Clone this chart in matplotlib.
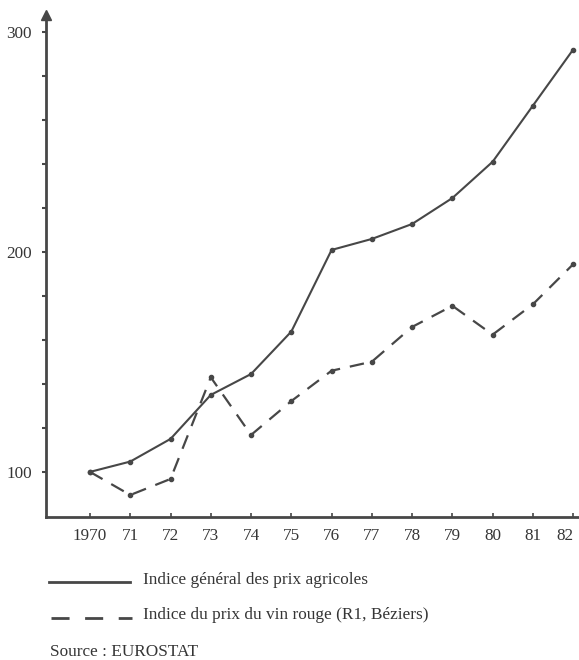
import matplotlib
matplotlib.use("Agg")
import matplotlib.pyplot as plt
from matplotlib.lines import Line2D

# Données (indices, base 1970 = 100)
years = [1970, 1971, 1972, 1973, 1974, 1975, 1976, 1977, 1978, 1979, 1980, 1981, 1982]
year_labels = ["1970", "71", "72", "73", "74", "75", "76", "77", "78", "79", "80", "81", "82"]
prix_agricoles = [100, 104.7, 115, 135, 144.5, 163.8, 200.9, 205.9, 212.7, 224.5, 241, 266.5, 292]
prix_vin_rouge = [100, 89.5, 96.8, 143, 116.8, 132.2, 146, 150.1, 165.9, 175.5, 162.4, 176.2, 194.4]

label_agri = "Indice général des prix agricoles"
label_vin = "Indice du prix du vin rouge (R1, Béziers)"
source = "Source : EUROSTAT"

INK = "#474747"
TXT = "#353535"

plt.rcParams["font.family"] = ["Liberation Serif", "DejaVu Serif"]
plt.rcParams["font.size"] = 12

W, H = 579, 660
fig = plt.figure(figsize=(W / 100, H / 100), dpi=100)
ax = fig.add_axes([46 / W, 143 / H, (578 - 46) / W, (517 - 15) / H])

ax.plot(years, prix_agricoles, color=INK, lw=1.5, marker="o", ms=3)
ax.plot(years, prix_vin_rouge, color=INK, lw=1.6, marker="o", ms=3,
        linestyle=(0, (6.5, 4.5)))

ax.set_xlim(1968.907, 1982.12)
ax.set_ylim(79.5, 307.7)

for s in ["top", "right"]:
    ax.spines[s].set_visible(False)
for s in ["left", "bottom"]:
    ax.spines[s].set_color(INK)
    ax.spines[s].set_linewidth(2)

# flèche en haut de l'axe vertical
ax.plot(0, 1, marker="^", ms=7, color=INK, transform=ax.transAxes, clip_on=False)

ax.set_xticks(years)
ax.set_xticklabels(year_labels)
ax.set_yticks([100, 200, 300])
ax.set_yticks(list(range(120, 300, 20)), minor=True)
ax.tick_params(axis="x", direction="in", length=3, width=1.2, colors=INK,
               labelcolor=TXT, pad=8, labelsize=12.3)
ax.tick_params(axis="y", which="both", direction="out", length=3, width=1.5,
               colors=INK, labelcolor=TXT, pad=7, labelsize=12.3)
# le dernier label touche le bord droit, comme sur l'original
ax.get_xticklabels()[-1].set_horizontalalignment("right")
ax.get_xticklabels()[-1].set_x(1982.12)

# légende dessinée à la main
def fx(px):
    return px / W

def fy(py):
    return 1 - py / H

fig.add_artist(Line2D([fx(49), fx(130)], [fy(582), fy(582)], color=INK, lw=2))
fig.add_artist(Line2D([fx(51), fx(132)], [fy(618), fy(618)], color=INK, lw=2,
                      linestyle=(0, (6.5, 5.6))))
fig.text(fx(143), fy(580), label_agri, color=TXT, va="center", ha="left", fontsize=12.4)
fig.text(fx(143), fy(615), label_vin, color=TXT, va="center", ha="left", fontsize=12.4)
fig.text(fx(50), fy(652), source, color=TXT, va="center", ha="left", fontsize=12.4)

fig.savefig("out.png", dpi=100)
